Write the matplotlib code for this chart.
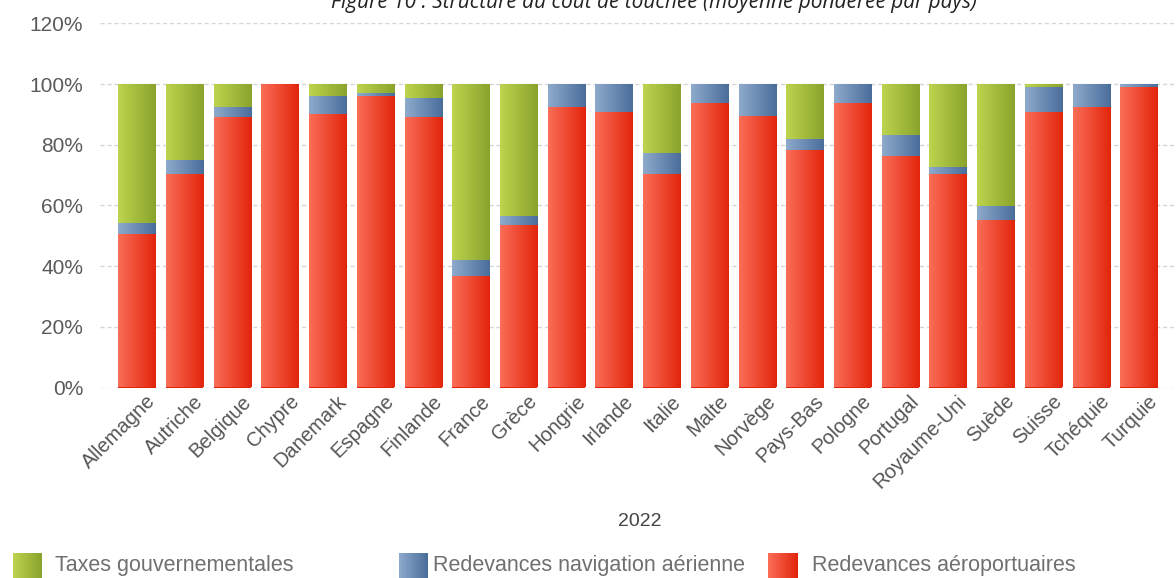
import numpy as np
import matplotlib
matplotlib.use("Agg")
import matplotlib.pyplot as plt
import matplotlib.transforms as mtransforms
from matplotlib.colors import LinearSegmentedColormap

# Data (shares in %)
pays = ["Allemagne", "Autriche", "Belgique", "Chypre", "Danemark", "Espagne",
        "Finlande", "France", "Grèce", "Hongrie", "Irlande", "Italie", "Malte",
        "Norvège", "Pays-Bas", "Pologne", "Portugal", "Royaume-Uni", "Suède",
        "Suisse", "Tchéquie", "Turquie"]
aeroport = [50.7, 70.4, 89.0, 100.0, 90.1, 96.1, 89.0, 36.7, 53.6, 92.5, 90.8,
            70.4, 93.6, 89.6, 78.1, 93.6, 76.3, 70.4, 55.3, 90.8, 92.5, 98.9]
navigation = [3.5, 4.6, 3.5, 0.0, 6.0, 1.0, 6.4, 5.2, 2.9, 7.5, 9.2, 7.0, 6.4,
              10.4, 3.9, 6.4, 6.9, 2.4, 4.6, 8.1, 7.5, 1.1]
taxes = [100 - a - n for a, n in zip(aeroport, navigation)]

series = ["Taxes gouvernementales", "Redevances navigation aérienne",
          "Redevances aéroportuaires"]
annee = "2022"
titre = "Figure 10 : Structure du coût de touchée (moyenne pondérée par pays)"

# gradient colours (left -> right)
grads = {
    "taxes": ("#bcd44e", "#8aa32c"),
    "nav": ("#8eaacc", "#4a6d9b"),
    "aero": ("#fa6e58", "#e3240c"),
}
cmaps = {k: LinearSegmentedColormap.from_list(k, v) for k, v in grads.items()}
ramp = np.linspace(0, 1, 64).reshape(1, -1)

fig = plt.figure(figsize=(11.76, 5.78), dpi=100)
W, H = 1176, 578
ax = fig.add_axes([100 / W, 1 - 387.5 / H, 1 - 100 / W, (387.5 - 23.3) / H])

x = np.arange(len(pays))
w = 0.786
bottom_nav = np.array(aeroport)
bottom_tax = bottom_nav + np.array(navigation)

layers = [(aeroport, np.zeros(len(pays)), "aero"),
          (navigation, bottom_nav, "nav"),
          (taxes, bottom_tax, "taxes")]
for vals, bot, key in layers:
    bars = ax.bar(x, vals, w, bottom=bot, color=grads[key][1], linewidth=0, zorder=2)
    for p in bars:
        if p.get_height() <= 0:
            continue
        x0, y0 = p.get_x(), p.get_y()
        im = ax.imshow(ramp, cmap=cmaps[key], aspect="auto", zorder=3,
                       extent=[x0, x0 + p.get_width(), y0, y0 + p.get_height()])
        im.set_clip_path(p)

ax.set_xlim(-0.776, len(pays) - 1 + 0.776)
ax.set_ylim(0, 120)
ax.set_yticks(np.arange(0, 121, 20))
ax.set_yticklabels([f"{v}%" for v in range(0, 121, 20)])
ax.yaxis.grid(True, color="#d6d6d6", linestyle=(0, (3, 2)), linewidth=1, zorder=0)
ax.set_axisbelow(True)
for s in ax.spines.values():
    s.set_visible(False)
ax.tick_params(axis="y", length=0, pad=12, labelsize=15, labelcolor="#5a5a5a")
ax.tick_params(axis="x", length=0, pad=3, labelsize=14.5, labelcolor="#555555")
ax.set_xticks(x)
ax.set_xticklabels(pays, rotation=45, ha="right", va="top", rotation_mode="anchor")
shift = mtransforms.ScaledTranslation(9 / 100, 0, fig.dpi_scale_trans)
for lab in ax.get_xticklabels():
    lab.set_transform(lab.get_transform() + shift)
for lab in ax.get_xticklabels() + ax.get_yticklabels():
    lab.set_family("Liberation Sans")

fig.text(640 / W, 1 - 522 / H, annee, ha="center", va="center", fontsize=14,
         color="#444444", family="Liberation Sans")
fig.text(654 / W, 1 - 8 / H, titre, ha="center", va="baseline", fontsize=15,
         style="italic", color="#222222", family="Open Sans")

# legend
legend_items = [("taxes", series[0], 13, 55), ("nav", series[1], 399, 433),
                ("aero", series[2], 768, 812)]
for key, label, sx, tx in legend_items:
    lax = fig.add_axes([sx / W, 0, 29 / W, 25 / H])
    lax.imshow(ramp, cmap=cmaps[key], aspect="auto")
    lax.set_axis_off()
    fig.text(tx / W, 1 - 566 / H, label, ha="left", va="center", fontsize=15.5,
             color="#707070", family="Liberation Sans")

fig.savefig("out.png", dpi=100)
